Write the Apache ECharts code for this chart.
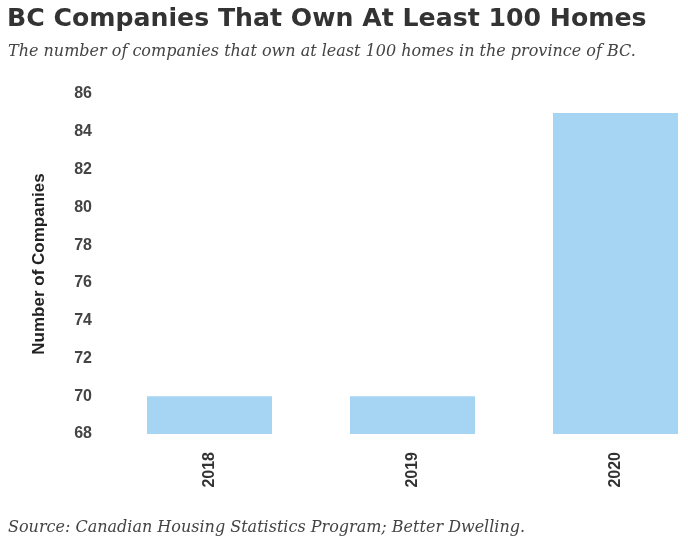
<!DOCTYPE html>
<html><head><meta charset="utf-8">
<script src="https://cdn.jsdelivr.net/npm/echarts@6/dist/echarts.min.js"></script>
<style>html,body{margin:0;padding:0;background:#fff}#c{width:688px;height:544px}</style>
</head><body><div id="c"></div>
<script>
const categories = ['2018', '2019', '2020'];
const companies = [70, 70, 85];
const yMin = 68, yMax = 86, yStep = 2;

const chart = echarts.init(document.getElementById('c'));
chart.setOption({
  animation: false,
  backgroundColor: '#fff',
  title: [
    {text: 'BC Companies That Own At Least 100 Homes', left: 2, top: 2,
     textStyle: {fontFamily: 'DejaVu Sans', fontWeight: 'bold', fontSize: 25.2, color: '#333'}},
    {text: 'The number of companies that own at least 100 homes in the province of BC.', left: 3, top: 39,
     textStyle: {fontFamily: 'DejaVu Serif', fontStyle: 'italic', fontWeight: 'normal', fontSize: 16, color: '#444'}},
    {text: 'Source: Canadian Housing Statistics Program; Better Dwelling.', left: 3, top: 515,
     textStyle: {fontFamily: 'DejaVu Serif', fontStyle: 'italic', fontWeight: 'normal', fontSize: 16, color: '#444'}}
  ],
  grid: {left: 108, top: 94, width: 609, height: 340, outerBoundsMode: 'none', containLabel: false},
  xAxis: {
    type: 'category', data: categories,
    axisLine: {show: false}, axisTick: {show: false},
    axisLabel: {rotate: 90, margin: 18, fontFamily: 'Liberation Sans', fontWeight: 'bold', fontSize: 16, color: '#333'}
  },
  yAxis: {
    type: 'value', min: yMin, max: yMax, interval: yStep,
    name: 'Number of Companies', nameLocation: 'middle', nameGap: 60, nameRotate: 90,
    nameTextStyle: {fontFamily: 'Liberation Sans', fontWeight: 'bold', fontSize: 17, color: '#222'},
    axisLine: {show: false}, axisTick: {show: false}, splitLine: {show: false},
    axisLabel: {margin: 16, fontFamily: 'Liberation Sans', fontWeight: 'bold', fontSize: 16, color: '#444'}
  },
  series: [{
    type: 'bar', data: companies, barWidth: 125,
    itemStyle: {color: '#a6d5f4'}
  }]
});
</script></body></html>
